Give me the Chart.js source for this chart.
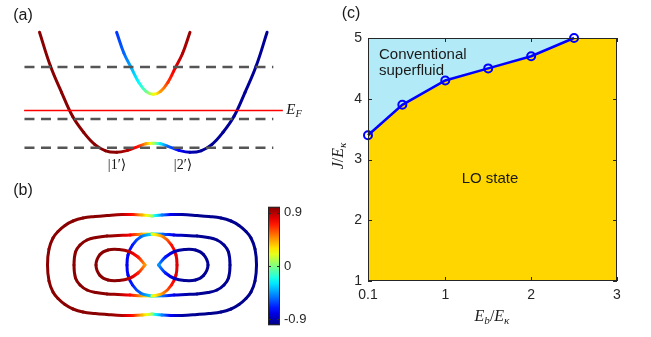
<!DOCTYPE html>
<html>
<head>
<meta charset="utf-8">
<script src="https://cdn.jsdelivr.net/npm/chart.js@4"></script>
<style>
  body { margin: 0; background: #fff; width: 651px; height: 337px; position: relative; overflow: hidden;
         font-family: 'Liberation Sans', Arial, sans-serif; color: #1a1a1a; }
  canvas { position: absolute; }
  .lbl { position: absolute; white-space: nowrap; transform: translate(-50%, -50%); line-height: 1; }
  .math { font-family: 'Liberation Serif', 'DejaVu Serif', serif; }
  .math i { font-style: italic; }
  sub { font-size: 70%; vertical-align: -0.3em; line-height: 0; }
</style>
</head>
<body>
<canvas id="bandChart" width="300" height="172" style="left:0;top:0"></canvas>
<canvas id="fermiChart" width="262" height="165" style="left:0;top:172px"></canvas>
<canvas id="colorbarChart" width="58" height="142" style="left:262px;top:195px"></canvas>
<canvas id="phaseChart" width="331" height="337" style="left:320px;top:0"></canvas>

<div class="lbl" style="left:23px;top:15px;font-size:16px">(a)</div>
<div class="lbl" style="left:23px;top:190px;font-size:16px">(b)</div>
<div class="lbl" style="left:351px;top:13px;font-size:16px">(c)</div>
<div class="lbl math" style="left:117px;top:165px;font-size:14px">|1′⟩</div>
<div class="lbl math" style="left:183px;top:165px;font-size:14px">|2′⟩</div>
<div class="lbl math" style="left:294px;top:109px;font-size:15px"><i>E</i><sub><i>F</i></sub></div>

<div class="lbl" style="left:379px;top:53px;font-size:15px;transform:translate(0,-50%)">Conventional</div>
<div class="lbl" style="left:379px;top:69px;font-size:15px;transform:translate(0,-50%)">superfluid</div>
<div class="lbl" style="left:490px;top:177px;font-size:15px">LO state</div>
<div class="lbl math" style="left:492px;top:316px;font-size:16px"><i>E</i><sub><i>b</i></sub>/<i>E</i><sub><i>κ</i></sub></div>
<div class="lbl math" style="left:338px;top:156px;font-size:16px;transform:translate(-50%,-50%) rotate(-90deg)"><i>J</i>/<i>E</i><sub><i>κ</i></sub></div>

<script>
// ---- panel (a): band dispersion (k in units of the well minimum, energy arbitrary) ----
const lowerK = [-3.1, -2.8, -2.5, -2.2, -1.9, -1.6, -1.3, -1.0, -0.7, -0.4, -0.2, 0, 0.2, 0.4, 0.7, 1.0, 1.3, 1.6, 1.9, 2.2, 2.5, 2.8, 3.1];
const lowerE = [12.0, 8.6, 6.0, 3.6, 2.0, 0.8, 0.15, 0, 0.2, 0.6, 0.85, 0.9, 0.85, 0.6, 0.2, 0, 0.15, 0.8, 2.0, 3.6, 6.0, 8.6, 12.0];
const lowerSpin = [0.98, 0.98, 0.98, 0.98, 0.98, 0.98, 0.98, 0.98, 0.9, 0.7, 0.45, 0.1, -0.3, -0.55, -0.75, -0.9, -0.95, -0.95, -0.95, -0.95, -0.95, -0.95, -0.95];
const upperK = [-1.0, -0.8, -0.6, -0.4, -0.2, 0, 0.2, 0.4, 0.6, 0.8, 1.0];
const upperE = [12.0, 9.9, 8.45, 7.0, 6.1, 5.8, 6.1, 7.0, 8.45, 9.9, 12.0];
const upperSpin = [-0.65, -0.55, -0.4, -0.25, -0.05, 0.2, 0.45, 0.65, 0.8, 0.9, 0.95];
const dashLevels = [8.53, 3.33, 0.46];
const dashK = [-3.51, 3.27];
const fermiLevel = 4.18;
const fermiK = [-3.52, 3.53];

// ---- panel (b): Fermi contours (kx, ky) and spin ----
const outerRedX = [0, -1.0, -1.9, -3.0, -4.5, -5.7, -6.9, -7.9, -8.7, -9.4, -9.9, -10.3, -10.45, -10.3, -9.9, -9.4, -8.7, -7.9, -6.9, -5.7, -4.5, -3.0, -1.9, -1.0, 0];
const outerRedY = [4.9, 5.0, 5.05, 5.05, 4.95, 4.85, 4.7, 4.4, 3.95, 3.35, 2.7, 1.6, 0, -1.6, -2.7, -3.35, -3.95, -4.4, -4.7, -4.85, -4.95, -5.05, -5.05, -5.0, -4.9];
const outerRedS = [0.05, 0.4, 0.7, 0.9, 0.98, 0.98, 0.98, 0.98, 0.98, 0.98, 0.98, 0.98, 0.98, 0.98, 0.98, 0.98, 0.98, 0.98, 0.98, 0.98, 0.98, 0.9, 0.7, 0.4, 0.05];
const outerBlueX = [0, 1.0, 1.9, 3.0, 4.5, 5.7, 6.9, 7.9, 8.7, 9.4, 9.9, 10.3, 10.45, 10.3, 9.9, 9.4, 8.7, 7.9, 6.9, 5.7, 4.5, 3.0, 1.9, 1.0, 0];
const outerBlueY = [4.9, 5.0, 5.05, 5.05, 4.95, 4.85, 4.7, 4.4, 3.95, 3.35, 2.7, 1.6, 0, -1.6, -2.7, -3.35, -3.95, -4.4, -4.7, -4.85, -4.95, -5.05, -5.05, -5.0, -4.9];
const outerBlueS = [-0.1, -0.5, -0.78, -0.92, -0.97, -0.97, -0.97, -0.97, -0.97, -0.97, -0.97, -0.97, -0.97, -0.97, -0.97, -0.97, -0.97, -0.97, -0.97, -0.97, -0.97, -0.92, -0.78, -0.5, -0.1];

const midRedX = [0, -1.1, -2.2, -3.4, -4.5, -5.6, -6.5, -7.2, -7.65, -7.8, -7.65, -7.2, -6.5, -5.6, -4.5, -3.4, -2.2, -1.1, 0];
const midRedY = [3.1, 3.08, 3.0, 2.95, 2.9, 2.75, 2.5, 2.0, 1.3, 0, -1.3, -2.0, -2.5, -2.75, -2.9, -2.95, -3.0, -3.08, -3.1];
const midRedS = [0.15, 0.45, 0.75, 0.92, 0.98, 0.98, 0.98, 0.98, 0.98, 0.98, 0.98, 0.98, 0.98, 0.98, 0.98, 0.92, 0.75, 0.45, 0.15];
const midBlueX = [0, 1.1, 2.2, 3.4, 4.5, 5.6, 6.5, 7.2, 7.65, 7.8, 7.65, 7.2, 6.5, 5.6, 4.5, 3.4, 2.2, 1.1, 0];
const midBlueY = [3.1, 3.08, 3.0, 2.95, 2.9, 2.75, 2.5, 2.0, 1.3, 0, -1.3, -2.0, -2.5, -2.75, -2.9, -2.95, -3.0, -3.08, -3.1];
const midBlueS = [-0.25, -0.55, -0.8, -0.92, -0.96, -0.96, -0.96, -0.96, -0.96, -0.96, -0.96, -0.96, -0.96, -0.96, -0.96, -0.92, -0.8, -0.55, -0.25];

const ringRedX = [0, 1.15, 1.95, 2.4, 2.5, 2.4, 1.95, 1.15, 0];
const ringRedY = [3.1, 2.8, 2.0, 1.0, 0, -1.0, -2.0, -2.8, -3.1];
const ringRedS = [0.2, 0.5, 0.72, 0.8, 0.82, 0.8, 0.72, 0.5, 0.2];
const ringBlueX = [0, -1.15, -1.95, -2.4, -2.5, -2.4, -1.95, -1.15, 0];
const ringBlueY = [3.1, 2.8, 2.0, 1.0, 0, -1.0, -2.0, -2.8, -3.1];
const ringBlueS = [-0.3, -0.55, -0.7, -0.75, -0.77, -0.75, -0.7, -0.55, -0.3];

const innerRedX = [-0.7, -1.4, -2.3, -3.3, -4.4, -5.2, -5.6, -5.2, -4.4, -3.3, -2.3, -1.4, -0.7];
const innerRedY = [0, 0.8, 1.35, 1.55, 1.5, 1.05, 0, -1.05, -1.5, -1.55, -1.35, -0.8, 0];
const innerRedS = [0.45, 0.7, 0.88, 0.98, 0.98, 0.98, 0.98, 0.98, 0.98, 0.98, 0.88, 0.7, 0.45];
const innerBlueX = [0.65, 1.35, 2.25, 3.25, 4.35, 5.15, 5.6, 5.15, 4.35, 3.25, 2.25, 1.35, 0.65];
const innerBlueY = [0, 0.8, 1.35, 1.55, 1.5, 1.05, 0, -1.05, -1.5, -1.55, -1.35, -0.8, 0];
const innerBlueS = [-0.45, -0.7, -0.88, -0.96, -0.96, -0.96, -0.96, -0.96, -0.96, -0.96, -0.88, -0.7, -0.45];

const colorbarRange = [-1, 1];
const colorbarTicks = [-0.9, 0, 0.9];

// ---- panel (c): phase boundary ----
const ebValues = [0.1, 0.5, 1, 1.5, 2, 2.5];
const jValues = [3.4, 3.9, 4.3, 4.5, 4.7, 5.0];
const xTicks = [0.1, 1, 2, 3];
const yTicks = [1, 2, 3, 4, 5];

const axisColor = '#262626';
const tickFont = { family: "'Liberation Sans', Arial, sans-serif", size: 14 };

// jet colormap for spin value in [-1, 1]
function jet(s) {
    const t = (s + 1) / 2;
    const c = v => Math.round(255 * Math.max(0, Math.min(1, v)));
    return 'rgb(' + c(1.5 - Math.abs(4 * t - 3)) + ',' + c(1.5 - Math.abs(4 * t - 2)) + ',' + c(1.5 - Math.abs(4 * t - 1)) + ')';
}

function segmentGradient(ctx, spins) {
    const p0 = ctx.p0, p1 = ctx.p1;
    const s0 = spins[ctx.p0DataIndex], s1 = spins[ctx.p1DataIndex];
    if (![p0.x, p0.y, p1.x, p1.y].every(Number.isFinite)) return jet(s0);
    const g = ctx.chart.ctx.createLinearGradient(p0.x, p0.y, p1.x, p1.y);
    for (let i = 0; i <= 4; i++) {
        g.addColorStop(i / 4, jet(s0 + (s1 - s0) * i / 4));
    }
    return g;
}

function spinLine(xs, ys, spins) {
    return {
        data: xs.map((x, i) => ({ x: x, y: ys[i] })),
        showLine: true,
        pointRadius: 0,
        borderWidth: 3,
        borderColor: jet(spins[0]),
        tension: 0.4,
        borderCapStyle: 'round',
        borderJoinStyle: 'round',
        segment: { borderColor: ctx => segmentGradient(ctx, spins) }
    };
}

function flatLine(ks, level, color, width, dash) {
    return {
        data: ks.map(k => ({ x: k, y: level })),
        showLine: true,
        pointRadius: 0,
        borderColor: color,
        borderWidth: width,
        borderDash: dash
    };
}

function bareOptions(xmin, xmax, ymin, ymax) {
    return {
        animation: false,
        responsive: false,
        events: [],
        layout: { padding: 0 },
        plugins: { legend: { display: false }, tooltip: { enabled: false } },
        scales: {
            x: { type: 'linear', display: false, min: xmin, max: xmax },
            y: { type: 'linear', display: false, min: ymin, max: ymax }
        }
    };
}

// panel (a)
new Chart(document.getElementById('bandChart'), {
    type: 'scatter',
    data: {
        datasets: [
            flatLine(fermiK, fermiLevel, '#ff0000', 1.5, []),
            ...dashLevels.map(e => flatLine(dashK, e, '#555555', 2.5, [10, 6.5])),
            spinLine(lowerK, lowerE, lowerSpin),
            spinLine(upperK, upperE, upperSpin)
        ]
    },
    options: bareOptions(-4.177, 3.997, -1.97, 15.23)
});

// panel (b)
new Chart(document.getElementById('fermiChart'), {
    type: 'scatter',
    data: {
        datasets: [
            spinLine(innerRedX, innerRedY, innerRedS),
            spinLine(innerBlueX, innerBlueY, innerBlueS),
            spinLine(ringRedX, ringRedY, ringRedS),
            spinLine(ringBlueX, ringBlueY, ringBlueS),
            spinLine(midRedX, midRedY, midRedS),
            spinLine(midBlueX, midBlueY, midBlueS),
            spinLine(outerRedX, outerRedY, outerRedS),
            spinLine(outerBlueX, outerBlueY, outerBlueS)
        ]
    },
    options: bareOptions(-15.2, 11.0, -7.2, 9.3)
});

// colorbar
const colorbarFrame = {
    id: 'colorbarFrame',
    afterDraw(chart) {
        const { ctx, chartArea: a, scales } = chart;
        ctx.save();
        ctx.strokeStyle = axisColor;
        ctx.lineWidth = 1;
        ctx.strokeRect(a.left + 0.5, a.top + 0.5, a.right - a.left - 1, a.bottom - a.top - 1);
        ctx.beginPath();
        colorbarTicks.forEach(v => {
            const py = Math.round(scales.y.getPixelForValue(v)) + 0.5;
            ctx.moveTo(a.right, py); ctx.lineTo(a.right - 3, py);
            ctx.moveTo(a.left, py); ctx.lineTo(a.left + 3, py);
        });
        ctx.stroke();
        ctx.restore();
    }
};

new Chart(document.getElementById('colorbarChart'), {
    type: 'bar',
    data: {
        labels: [''],
        datasets: [{
            data: [colorbarRange],
            borderWidth: 0,
            barPercentage: 1,
            categoryPercentage: 1,
            backgroundColor: ctx => {
                const a = ctx.chart.chartArea;
                if (!a || !Number.isFinite(a.top) || !Number.isFinite(a.bottom)) return '#888';
                const g = ctx.chart.ctx.createLinearGradient(0, a.bottom, 0, a.top);
                for (let i = 0; i <= 20; i++) {
                    g.addColorStop(i / 20, jet(colorbarRange[0] + (colorbarRange[1] - colorbarRange[0]) * i / 20));
                }
                return g;
            }
        }]
    },
    options: {
        animation: false,
        responsive: false,
        events: [],
        layout: { padding: { left: 6, top: 8, bottom: 10, right: 0 } },
        plugins: { legend: { display: false }, tooltip: { enabled: false } },
        scales: {
            x: { display: false },
            y: {
                position: 'right',
                min: colorbarRange[0],
                max: colorbarRange[1],
                afterBuildTicks: s => { s.ticks = colorbarTicks.map(v => ({ value: v })); },
                afterFit: s => { s.width = 40; },
                grid: { drawOnChartArea: false, drawTicks: false },
                border: { display: false },
                ticks: { font: { family: tickFont.family, size: 13 }, color: axisColor, padding: 4 }
            }
        }
    },
    plugins: [colorbarFrame]
});

// panel (c)
const phaseFrame = {
    id: 'phaseFrame',
    beforeDraw(chart) {
        const { ctx, chartArea: a } = chart;
        ctx.save();
        ctx.fillStyle = '#ffd600';
        ctx.fillRect(a.left, a.top, a.right - a.left, a.bottom - a.top);
        ctx.restore();
    },
    afterDatasetsDraw(chart) {
        const { ctx, chartArea: a, scales } = chart;
        ctx.save();
        ctx.strokeStyle = axisColor;
        ctx.lineWidth = 1;
        ctx.strokeRect(a.left + 0.5, a.top + 0.5, a.right - a.left - 1, a.bottom - a.top - 1);
        ctx.beginPath();
        xTicks.forEach(v => {
            const px = Math.round(scales.x.getPixelForValue(v)) + 0.5;
            ctx.moveTo(px, a.bottom); ctx.lineTo(px, a.bottom - 4);
            ctx.moveTo(px, a.top); ctx.lineTo(px, a.top + 4);
        });
        yTicks.forEach(v => {
            const py = Math.round(scales.y.getPixelForValue(v)) + 0.5;
            ctx.moveTo(a.left, py); ctx.lineTo(a.left + 4, py);
            ctx.moveTo(a.right, py); ctx.lineTo(a.right - 4, py);
        });
        ctx.stroke();
        ctx.restore();
    }
};

new Chart(document.getElementById('phaseChart'), {
    type: 'scatter',
    data: {
        datasets: [{
            data: ebValues.map((x, i) => ({ x: x, y: jValues[i] })),
            showLine: true,
            borderColor: '#0000ff',
            borderWidth: 2.5,
            pointRadius: 4,
            pointBorderWidth: 2,
            pointBorderColor: '#0000ff',
            pointBackgroundColor: 'rgba(0,0,0,0)',
            fill: 'end',
            backgroundColor: '#b2ebf7',
            clip: false
        }]
    },
    options: {
        animation: false,
        responsive: false,
        events: [],
        layout: { padding: { top: 38, right: 34, left: 0, bottom: 0 } },
        plugins: { legend: { display: false }, tooltip: { enabled: false } },
        scales: {
            x: {
                type: 'linear',
                min: 0.1,
                max: 3,
                afterBuildTicks: s => { s.ticks = xTicks.map(v => ({ value: v })); },
                afterFit: s => { s.height = 56; },
                grid: { display: false, drawTicks: false },
                border: { display: false },
                ticks: { font: tickFont, color: axisColor, padding: 6, maxRotation: 0 }
            },
            y: {
                type: 'linear',
                min: 1,
                max: 5,
                afterBuildTicks: s => { s.ticks = yTicks.map(v => ({ value: v })); },
                afterFit: s => { s.width = 48; },
                grid: { display: false, drawTicks: false },
                border: { display: false },
                ticks: { font: tickFont, color: axisColor, padding: 6 }
            }
        }
    },
    plugins: [phaseFrame]
});
</script>
</body>
</html>
